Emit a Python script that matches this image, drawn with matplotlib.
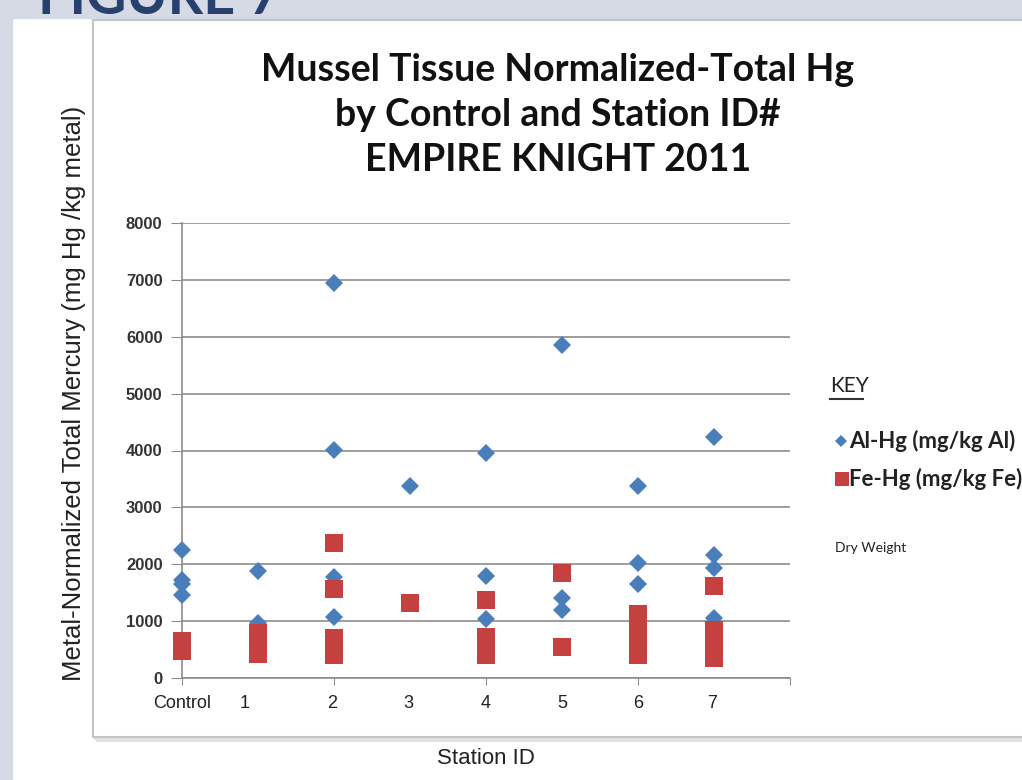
import matplotlib
matplotlib.use("Agg")
import matplotlib.pyplot as plt
from matplotlib.patches import Rectangle
from matplotlib.lines import Line2D

# data (x = station index, 0 = Control)
stations = ["Control", "1", "2", "3", "4", "5", "6", "7"]
label_pos = [0.0, 0.82, 1.98, 2.98, 4.0, 5.0, 6.0, 6.98]

al_station = [0, 0, 0, 0, 1, 1, 2, 2, 2, 2, 2, 3, 4, 4, 4, 5, 5, 5, 6, 6, 6, 7, 7, 7, 7]
al_hg = [2250, 1730, 1650, 1460, 1880, 960, 6950, 4010, 1780, 1620, 1070, 3370,
         3950, 1790, 1040, 5850, 1400, 1200, 3370, 2020, 1650, 4240, 2160, 1930, 1060]

fe_station = [0, 0, 1, 1, 1, 1, 2, 2, 2, 2, 2, 3, 4, 4, 4, 4, 5, 5,
              6, 6, 6, 6, 6, 6, 7, 7, 7, 7, 7, 7]
fe_hg = [650, 480, 800, 680, 560, 420, 2370, 1560, 700, 550, 400, 1320,
         1380, 720, 560, 400, 1850, 550, 1130, 980, 820, 660, 520, 410,
         1620, 850, 700, 560, 440, 360]

yticks = [0, 1000, 2000, 3000, 4000, 5000, 6000, 7000, 8000]

W, H = 1022, 780
blue = "#4a7ebb"
red = "#c4413f"
grid = "#8c8c8c"

fig = plt.figure(figsize=(W / 100, H / 100), dpi=100)
fig.patch.set_facecolor("white")


def fx(px):
    return px / W


def fy(py):
    return 1 - py / H


# slide background strips and the heading that is cut off at the top
bg = "#d5dae5"
fig.add_artist(Rectangle((0, 0), fx(12), 1, transform=fig.transFigure, color=bg, zorder=0))
fig.add_artist(Rectangle((0, fy(18)), 1, 18 / H, transform=fig.transFigure, color=bg, zorder=0))
fig.text(fx(38), fy(14), "FIGURE 7", fontsize=40, color="#27406e", fontfamily="Lato",
         fontweight="bold", va="baseline", ha="left")

# chart box with a soft shadow
fig.add_artist(Rectangle((fx(96), fy(740)), fx(1000), (740 - 23) / H, transform=fig.transFigure,
                         facecolor="none", edgecolor="#e2e2e2", lw=3, zorder=1))
fig.add_artist(Rectangle((fx(93), fy(737)), fx(1000), (737 - 20) / H, transform=fig.transFigure,
                         facecolor="white", edgecolor="#c4c4c4", lw=1.5, zorder=1))

ax = fig.add_axes([fx(182), fy(678), fx(790 - 182), (678 - 223) / H])
ax.set_zorder(2)
ax.patch.set_alpha(0)

ax.plot(al_station, al_hg, linestyle="none", marker="D", markersize=9, color=blue,
        markeredgewidth=0, zorder=3, clip_on=False)
ax.plot(fe_station, fe_hg, linestyle="none", marker="s", markersize=12.5, color=red,
        markeredgewidth=0, zorder=4, clip_on=False)

ax.set_xlim(0, 8)
ax.set_ylim(0, 8000)
ax.set_xticks([0, 2, 4, 6, 8])
ax.set_xticklabels([])
ax.set_yticks(yticks)
ax.set_yticklabels([str(v) for v in yticks], fontsize=12, fontweight="bold",
                   fontfamily="Liberation Sans", color="#333333")
ax.tick_params(axis="y", length=8, color=grid, pad=6)
ax.tick_params(axis="x", length=5, color=grid)
ax.grid(axis="y", color=grid, lw=1.2)
ax.set_axisbelow(True)
for s in ["top", "right"]:
    ax.spines[s].set_visible(False)
for s in ["left", "bottom"]:
    ax.spines[s].set_color(grid)
    ax.spines[s].set_linewidth(1.2)

for p, lab in zip(label_pos, stations):
    ax.text(p, -300, lab, ha="center", va="top", fontsize=13,
            fontfamily="Liberation Sans", color="#222222")

fig.text(fx(486), fy(759), "Station ID", ha="center", va="center", fontsize=16,
         fontfamily="Liberation Sans", color="#222222")
fig.text(fx(74), fy(393), "Metal-Normalized Total Mercury (mg Hg /kg metal)", rotation=90,
         ha="center", va="center", fontsize=18.5, fontfamily="Liberation Sans", color="#222222")

fig.text(fx(558), fy(115), "Mussel Tissue Normalized-Total Hg\nby Control and Station ID#\nEMPIRE KNIGHT 2011",
         ha="center", va="center", fontsize=27, fontweight="bold", fontfamily="Lato",
         color="#111111", linespacing=1.38)

# key
fig.text(fx(830), fy(386), "KEY", fontsize=15, fontfamily="Lato", color="#222222",
         ha="left", va="center")
fig.add_artist(Line2D([fx(830), fx(863)], [fy(399), fy(399)], transform=fig.transFigure,
                      color="#333333", lw=1.5))
fig.add_artist(Line2D([fx(841)], [fy(441)], transform=fig.transFigure, marker="D",
                      markersize=6, color=blue, markeredgewidth=0, linestyle="none"))
fig.text(fx(849), fy(441), "Al-Hg (mg/kg Al)", fontsize=16, fontfamily="Lato",
         fontweight="bold", color="#222222", ha="left", va="center")
fig.add_artist(Line2D([fx(842)], [fy(479)], transform=fig.transFigure, marker="s",
                      markersize=10, color=red, markeredgewidth=0, linestyle="none"))
fig.text(fx(849), fy(479), "Fe-Hg (mg/kg Fe)", fontsize=16, fontfamily="Lato",
         fontweight="bold", color="#222222", ha="left", va="center")
fig.text(fx(835), fy(548), "Dry Weight", fontsize=10, fontfamily="Lato",
         color="#222222", ha="left", va="center")

fig.savefig("out.png", dpi=100, facecolor=fig.get_facecolor())
